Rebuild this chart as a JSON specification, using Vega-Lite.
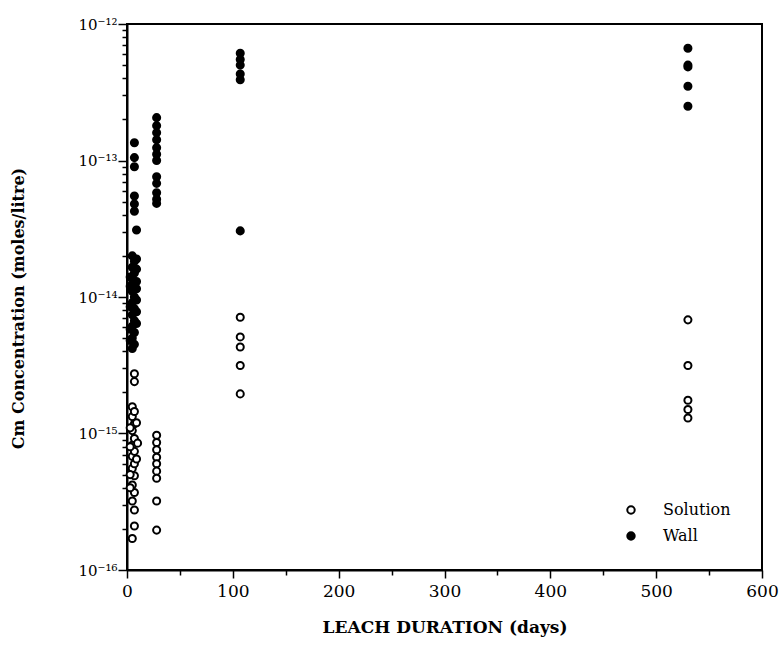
{
  "$schema": "https://vega.github.io/schema/vega-lite/v6.json",
  "width": 635,
  "height": 546,
  "autosize": "none",
  "padding": {"left": 127, "top": 24, "right": 19, "bottom": 75},
  "background": "white",
  "config": {
    "view": {"stroke": "black", "strokeWidth": 2},
    "font": "DejaVu Serif",
    "axis": {"domainColor": "black", "domainWidth": 2, "tickColor": "black", "tickWidth": 1.5, "labelColor": "black", "titleColor": "black", "grid": false, "labelFont": "DejaVu Serif", "titleFont": "DejaVu Serif"}
  },
  "data": {"values": [
    {"d": 530, "c": 6.65e-13, "t": "Wall"},
    {"d": 530, "c": 5.0e-13, "t": "Wall"},
    {"d": 530, "c": 4.85e-13, "t": "Wall"},
    {"d": 530, "c": 3.5e-13, "t": "Wall"},
    {"d": 530, "c": 2.5e-13, "t": "Wall"},
    {"d": 107, "c": 6.1e-13, "t": "Wall"},
    {"d": 107, "c": 5.5e-13, "t": "Wall"},
    {"d": 107, "c": 5.0e-13, "t": "Wall"},
    {"d": 107, "c": 4.3e-13, "t": "Wall"},
    {"d": 107, "c": 3.9e-13, "t": "Wall"},
    {"d": 107, "c": 3.05e-14, "t": "Wall"},
    {"d": 28, "c": 2.06e-13, "t": "Wall"},
    {"d": 28, "c": 1.8e-13, "t": "Wall"},
    {"d": 28, "c": 1.6e-13, "t": "Wall"},
    {"d": 28, "c": 1.42e-13, "t": "Wall"},
    {"d": 28, "c": 1.24e-13, "t": "Wall"},
    {"d": 28, "c": 1.11e-13, "t": "Wall"},
    {"d": 28, "c": 1.0e-13, "t": "Wall"},
    {"d": 28, "c": 7.6e-14, "t": "Wall"},
    {"d": 28, "c": 6.8e-14, "t": "Wall"},
    {"d": 28, "c": 5.8e-14, "t": "Wall"},
    {"d": 28, "c": 5.2e-14, "t": "Wall"},
    {"d": 28, "c": 4.85e-14, "t": "Wall"},
    {"d": 7, "c": 1.35e-13, "t": "Wall"},
    {"d": 7, "c": 1.05e-13, "t": "Wall"},
    {"d": 7, "c": 9.0e-14, "t": "Wall"},
    {"d": 7, "c": 5.5e-14, "t": "Wall"},
    {"d": 7, "c": 4.8e-14, "t": "Wall"},
    {"d": 7, "c": 4.25e-14, "t": "Wall"},
    {"d": 9, "c": 3.1e-14, "t": "Wall"},
    {"d": 5, "c": 2.0e-14, "t": "Wall"},
    {"d": 5, "c": 1.65e-14, "t": "Wall"},
    {"d": 5, "c": 1.36e-14, "t": "Wall"},
    {"d": 5, "c": 1.1e-14, "t": "Wall"},
    {"d": 5, "c": 9.1e-15, "t": "Wall"},
    {"d": 5, "c": 7.4e-15, "t": "Wall"},
    {"d": 5, "c": 6.1e-15, "t": "Wall"},
    {"d": 5, "c": 5.0e-15, "t": "Wall"},
    {"d": 5, "c": 4.2e-15, "t": "Wall"},
    {"d": 7, "c": 1.83e-14, "t": "Wall"},
    {"d": 7, "c": 1.5e-14, "t": "Wall"},
    {"d": 7, "c": 1.23e-14, "t": "Wall"},
    {"d": 7, "c": 1.0e-14, "t": "Wall"},
    {"d": 7, "c": 8.2e-15, "t": "Wall"},
    {"d": 7, "c": 6.7e-15, "t": "Wall"},
    {"d": 7, "c": 5.5e-15, "t": "Wall"},
    {"d": 7, "c": 4.5e-15, "t": "Wall"},
    {"d": 9, "c": 1.9e-14, "t": "Wall"},
    {"d": 9, "c": 1.6e-14, "t": "Wall"},
    {"d": 9, "c": 1.3e-14, "t": "Wall"},
    {"d": 9, "c": 1.15e-14, "t": "Wall"},
    {"d": 9, "c": 9.5e-15, "t": "Wall"},
    {"d": 9, "c": 7.8e-15, "t": "Wall"},
    {"d": 9, "c": 6.4e-15, "t": "Wall"},
    {"d": 3, "c": 1.4e-14, "t": "Wall"},
    {"d": 3, "c": 1.2e-14, "t": "Wall"},
    {"d": 3, "c": 8.5e-15, "t": "Wall"},
    {"d": 3, "c": 5.8e-15, "t": "Wall"},
    {"d": 3, "c": 4.8e-15, "t": "Wall"},
    {"d": 530, "c": 6.8e-15, "t": "Solution"},
    {"d": 530, "c": 3.15e-15, "t": "Solution"},
    {"d": 530, "c": 1.75e-15, "t": "Solution"},
    {"d": 530, "c": 1.5e-15, "t": "Solution"},
    {"d": 530, "c": 1.3e-15, "t": "Solution"},
    {"d": 107, "c": 7.1e-15, "t": "Solution"},
    {"d": 107, "c": 5.1e-15, "t": "Solution"},
    {"d": 107, "c": 4.3e-15, "t": "Solution"},
    {"d": 107, "c": 3.15e-15, "t": "Solution"},
    {"d": 107, "c": 1.95e-15, "t": "Solution"},
    {"d": 28, "c": 9.7e-16, "t": "Solution"},
    {"d": 28, "c": 8.6e-16, "t": "Solution"},
    {"d": 28, "c": 7.6e-16, "t": "Solution"},
    {"d": 28, "c": 6.7e-16, "t": "Solution"},
    {"d": 28, "c": 6.0e-16, "t": "Solution"},
    {"d": 28, "c": 5.3e-16, "t": "Solution"},
    {"d": 28, "c": 4.7e-16, "t": "Solution"},
    {"d": 28, "c": 3.2e-16, "t": "Solution"},
    {"d": 28, "c": 1.96e-16, "t": "Solution"},
    {"d": 7, "c": 2.74e-15, "t": "Solution"},
    {"d": 7, "c": 2.4e-15, "t": "Solution"},
    {"d": 5, "c": 1.57e-15, "t": "Solution"},
    {"d": 5, "c": 1.33e-15, "t": "Solution"},
    {"d": 5, "c": 1.05e-15, "t": "Solution"},
    {"d": 5, "c": 8.2e-16, "t": "Solution"},
    {"d": 5, "c": 6.8e-16, "t": "Solution"},
    {"d": 5, "c": 5.55e-16, "t": "Solution"},
    {"d": 5, "c": 4.2e-16, "t": "Solution"},
    {"d": 5, "c": 3.2e-16, "t": "Solution"},
    {"d": 5, "c": 1.7e-16, "t": "Solution"},
    {"d": 7, "c": 2.1e-16, "t": "Solution"},
    {"d": 7, "c": 1.45e-15, "t": "Solution"},
    {"d": 7, "c": 1.18e-15, "t": "Solution"},
    {"d": 7, "c": 9.2e-16, "t": "Solution"},
    {"d": 7, "c": 7.4e-16, "t": "Solution"},
    {"d": 7, "c": 6.0e-16, "t": "Solution"},
    {"d": 7, "c": 4.9e-16, "t": "Solution"},
    {"d": 7, "c": 3.7e-16, "t": "Solution"},
    {"d": 7, "c": 2.75e-16, "t": "Solution"},
    {"d": 9, "c": 1.2e-15, "t": "Solution"},
    {"d": 10, "c": 8.5e-16, "t": "Solution"},
    {"d": 9, "c": 6.5e-16, "t": "Solution"},
    {"d": 3, "c": 1.1e-15, "t": "Solution"},
    {"d": 3, "c": 8.0e-16, "t": "Solution"},
    {"d": 3, "c": 5.0e-16, "t": "Solution"},
    {"d": 3, "c": 4.0e-16, "t": "Solution"}
  ]},
  "mark": {"type": "circle", "size": 50, "stroke": "black", "strokeWidth": 2, "opacity": 1},
  "encoding": {
    "x": {
      "field": "d", "type": "quantitative",
      "scale": {"domain": [0, 600], "nice": false, "zero": false},
      "axis": {
        "title": "LEACH DURATION (days)",
        "titleFontSize": 17, "titleFontWeight": "bold", "titlePadding": 20,
        "labelFontSize": 17, "labelPadding": 5, "labelFlush": false,
        "values": [0, 50, 100, 150, 200, 250, 300, 350, 400, 450, 500, 550, 600],
        "labelExpr": "datum.value % 100 == 0 ? datum.label : ''",
        "tickSize": {"condition": {"test": "datum.value % 100 != 0", "value": 5}, "value": 8}
      }
    },
    "y": {
      "field": "c", "type": "quantitative",
      "scale": {"type": "log", "domain": [1e-16, 1e-12], "nice": false},
      "axis": {
        "title": "Cm Concentration  (moles/litre)",
        "titleFontSize": 16, "titleFontWeight": "bold",
        "titleAngle": 270, "titleX": -109, "titleY": 284, "titleAlign": "center", "titleBaseline": "middle",
        "labelFontSize": 15, "labelPadding": 1, "labelFlush": false,
        "values": [1e-16, 2e-16, 3e-16, 4e-16, 5e-16, 6e-16, 7e-16, 8e-16, 9e-16, 1e-15, 2e-15, 3e-15, 4e-15, 5e-15, 6e-15, 7e-15, 8e-15, 9e-15, 1e-14, 2e-14, 3e-14, 4e-14, 5e-14, 6e-14, 7e-14, 8e-14, 9e-14, 1e-13, 2e-13, 3e-13, 4e-13, 5e-13, 6e-13, 7e-13, 8e-13, 9e-13, 1e-12],
        "labelExpr": "abs(log(datum.value)/LN10 + 12) < 0.01 ? '10⁻¹²' : (abs(log(datum.value)/LN10 + 13) < 0.01 ? '10⁻¹³' : (abs(log(datum.value)/LN10 + 14) < 0.01 ? '10⁻¹⁴' : (abs(log(datum.value)/LN10 + 15) < 0.01 ? '10⁻¹⁵' : (abs(log(datum.value)/LN10 + 16) < 0.01 ? '10⁻¹⁶' : ''))))",
        "tickSize": {"condition": {"test": "abs(log(datum.value)/LN10 - round(log(datum.value)/LN10)) > 0.01", "value": 5}, "value": 9}
      }
    },
    "fill": {
      "field": "t", "type": "nominal",
      "scale": {"domain": ["Solution", "Wall"], "range": ["#ffffff", "#000000"]},
      "legend": {
        "title": null, "orient": "none", "legendX": 496, "legendY": 478,
        "symbolType": "circle", "symbolSize": 55, "symbolStrokeColor": "black", "symbolStrokeWidth": 2,
        "labelFont": "DejaVu Serif", "labelFontSize": 16, "labelColor": "black", "labelOffset": 24, "rowPadding": 10
      }
    }
  }
}
